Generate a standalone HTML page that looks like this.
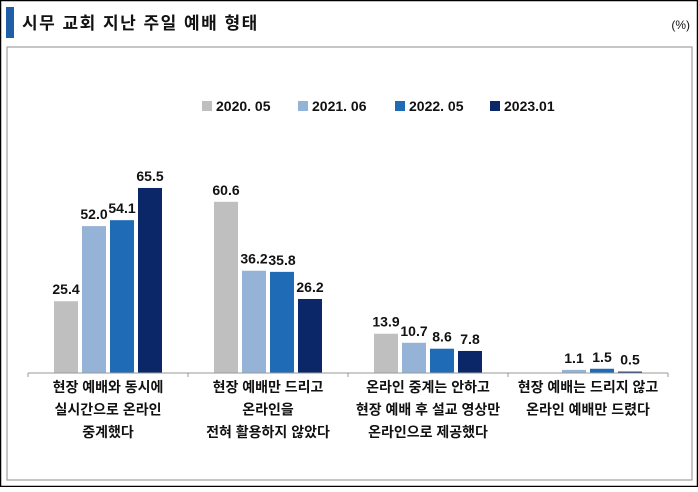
<!DOCTYPE html>
<html><head><meta charset="utf-8"><style>
body{margin:0;width:698px;height:487px;background:#fff;overflow:hidden;font-family:"Liberation Sans","Noto Sans CJK KR",sans-serif}
</style></head><body>
<svg width="698" height="487" font-family="Liberation Sans, Noto Sans CJK KR, sans-serif">
<rect x="0.5" y="0.5" width="697" height="486" fill="#fff" stroke="#000" stroke-width="1.5"/>
<rect x="6" y="7" width="8" height="31" fill="#1f5fa8"/>
<text x="22" y="29" font-size="17" font-weight="bold" letter-spacing="1.5" fill="#111">시무 교회 지난 주일 예배 형태</text>
<text x="690" y="29" font-size="12" text-anchor="end" fill="#111">(%)</text>
<rect x="7" y="47" width="685" height="433" fill="none" stroke="#a0a0a0" stroke-width="1.2"/>
<g id="legend"></g>
<g id="bars"></g>
<g id="axis"></g>
</svg>
<script>
const categories=[["현장 예배와 동시에","실시간으로 온라인","중계했다"],["현장 예배만 드리고","온라인을","전혀 활용하지 않았다"],["온라인 중계는 안하고","현장 예배 후 설교 영상만","온라인으로 제공했다"],["현장 예배는 드리지 않고","온라인 예배만 드렸다"]];
const seriesNames=["2020. 05","2021. 06","2022. 05","2023.01"];
const s2020=[25.4,60.6,13.9,null];
const s2021=[52.0,36.2,10.7,1.1];
const s2022=[54.1,35.8,8.6,1.5];
const s2023=[65.5,26.2,7.8,0.5];
const series=[s2020,s2021,s2022,s2023];
const colors=["#bfbfbf","#95b3d7","#1f6bb5","#0c2768"];
const NS="http://www.w3.org/2000/svg";
const base=373, pxPer=2.825, x0=28, groupW=160, barW=24, step=28;
const y=v=>base-v*pxPer;
const gx=i=>x0+groupW*i+groupW/2;
function mk(t,a,p){const e=document.createElementNS(NS,t);for(const k in a)e.setAttribute(k,a[k]);p.appendChild(e);return e;}
const bars=document.getElementById('bars'),axis=document.getElementById('axis'),legend=document.getElementById('legend');
series.forEach((s,si)=>{s.forEach((v,ci)=>{if(v===null)return;
 const bx=gx(ci)-2*step+si*step+2;
 const r=mk('rect',{x:bx,y:y(v),width:barW,height:v*pxPer,fill:colors[si]},bars);
 
 
 const t=mk('text',{x:bx+barW/2,y:y(v)-7,'text-anchor':'middle','font-size':14,'font-weight':'bold',fill:'#111'},bars);
 t.textContent=v.toFixed(1);
 
 
});});
const ax=mk('line',{x1:x0,x2:x0+groupW*4,y1:base,y2:base,stroke:'#999'},axis);


for(let i=0;i<=4;i++){const tk=mk('line',{x1:x0+groupW*i,x2:x0+groupW*i,y1:base,y2:base+4,stroke:'#999'},axis);
 
 }
categories.forEach((lines,ci)=>{lines.forEach((l,li)=>{
 const t=mk('text',{x:gx(ci),y:base+19+li*22.5,'text-anchor':'middle','font-size':14,'font-weight':'bold',fill:'#111'},axis);
 t.textContent=l;
 
 
});});
const lx=[202,298,395,490];
seriesNames.forEach((n,i)=>{
 const g=mk('g',{},legend);
 
 
 mk('rect',{x:lx[i],y:101,width:10,height:10,fill:colors[i]},g);
 const t=mk('text',{x:lx[i]+14,y:111,'font-size':14,'font-weight':'bold',fill:'#111'},g);
 t.textContent=n;
});
</script>
</body></html>
